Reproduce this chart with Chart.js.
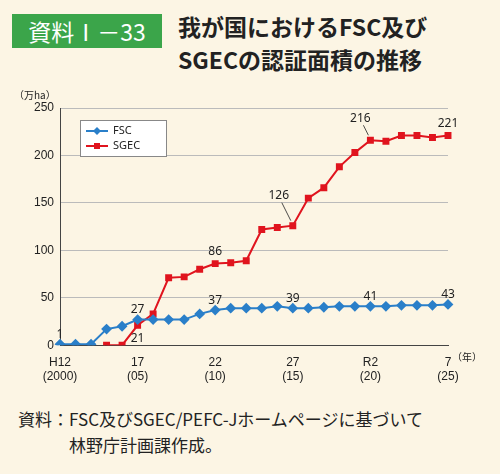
<!DOCTYPE html>
<html><head><meta charset="utf-8">
<script src="https://cdn.jsdelivr.net/npm/chart.js@4"></script>
<style>
body{margin:0;background:#fcf5e4;font-family:"Noto Sans CJK JP","Noto Sans",sans-serif;}
#wrap{position:relative;width:500px;height:474px;}
#badge{position:absolute;left:12px;top:14px;width:150px;height:34px;background:#3ba54a;color:#fff;font-size:23px;line-height:34px;text-align:center;}
#title{position:absolute;left:178px;top:10px;font-size:23px;font-weight:bold;line-height:33px;color:#222;}
#cv{position:absolute;left:0;top:86px;}
#note{position:absolute;left:18px;top:406px;font-size:17px;line-height:26px;color:#222;}
</style></head><body>
<div id="wrap">
<div id="badge">資料Ⅰ－33</div>
<div id="title">我が国におけるFSC及び<br>SGECの認証面積の推移</div>
<canvas id="cv" width="500" height="300"></canvas>
<div id="note">資料：FSC及びSGEC/PEFC-Jホームページに基づいて<br><span style="padding-left:51px">林野庁計画課作成。</span></div>
</div>
<script>
const years = ['H12','13','14','15','16','17','18','19','20','21','22','23','24','25','26','27','28','29','30','R1','R2','3','4','5','6','7'];
const tickTop = {0:'H12',5:'17',10:'22',15:'27',20:'R2',25:'7'};
const tickBottom = {0:'(2000)',5:'(05)',10:'(10)',15:'(15)',20:'(20)',25:'(25)'};
const fsc = [1,1,1,17,20,27,27,27,27,33,37,39,39,39,41,39,39,40,41,41,41,41,42,42,42,43];
const sgec = [null,null,null,0,0,21,33,71,72,80,86,87,89,122,124,126,155,166,188,203,216,215,221,221,219,221];
const fscLabels = {0:[0,-10],5:[0,-10],10:[0,-10],15:[0,-10],20:[0,-10],25:[0,-10]};
const sgecLabels = {5:[0,13],10:[0,-12],15:[-14,-30],20:[-10,-22],25:[0,-12]};

const labelPlugin = {
  id:'labels',
  afterDatasetsDraw(chart){
    const c = chart.ctx;
    c.save();
    c.font='12px "Noto Sans", sans-serif';
    c.fillStyle='#222';c.textAlign='center';c.textBaseline='middle';
    const draw=(di,map,vals)=>{
      const meta=chart.getDatasetMeta(di);
      for(const k in map){
        const p=meta.data[k];const [dx,dy]=map[k];
        const x=p.x+dx,y=p.y+dy;
        if(Math.abs(dx)>5){c.strokeStyle='#222';c.lineWidth=0.8;c.beginPath();c.moveTo(x+3,y+7);c.lineTo(p.x-2,p.y-5);c.stroke();}
        c.fillText(String(vals[k]),x,y);
      }
    };
    draw(0,fscLabels,fsc);draw(1,sgecLabels,sgec);
    c.textAlign='left';c.font='10px "Noto Sans CJK JP", sans-serif';
    c.fillText('（万ha）',14,9);
    c.fillText('（年）',452,271);
    c.fillStyle='#fff';c.strokeStyle='#888';c.lineWidth=1;
    c.fillRect(80,34,86,36);c.strokeRect(80.5,34.5,86,36);
    const items=[['FSC','#2a7fc9','d'],['SGEC','#e0141e','s']];
    items.forEach((it,i)=>{
      const y=45+i*15;
      c.strokeStyle=it[1];c.lineWidth=2;c.beginPath();c.moveTo(86,y);c.lineTo(108,y);c.stroke();
      c.fillStyle=it[1];
      if(it[2]==='d'){c.beginPath();c.moveTo(97,y-4);c.lineTo(101,y);c.lineTo(97,y+4);c.lineTo(93,y);c.fill();}
      else c.fillRect(94,y-3,6,6);
      c.fillStyle='#222';c.font='11px "Noto Sans", sans-serif';c.fillText(it[0],113,y);
    });
    c.restore();
  }
};

new Chart(document.getElementById('cv'),{
  type:'line',
  data:{labels:years,datasets:[
    {label:'FSC',data:fsc,borderColor:'#2a7fc9',backgroundColor:'#2a7fc9',borderWidth:2,pointStyle:'rectRot',pointRadius:4,tension:0},
    {label:'SGEC',data:sgec,borderColor:'#e0141e',backgroundColor:'#e0141e',borderWidth:2,pointStyle:'rect',pointRadius:3.5,tension:0}
  ]},
  options:{
    responsive:false,animation:false,
    layout:{padding:{left:0,right:52,top:22,bottom:0}},
    plugins:{legend:{display:false},tooltip:{enabled:false}},
    scales:{
      x:{offset:false,grid:{display:false},border:{color:'#444'},
        ticks:{autoSkip:false,maxRotation:0,color:'#222',font:{size:12},padding:2,
          callback:(v,i)=>tickTop[i]!==undefined?[tickTop[i],tickBottom[i]]:''}},
      y:{min:0,max:250,grid:{color:'#bbb',drawTicks:false},border:{color:'#444'},
        afterFit(s){s.width=60;},
        ticks:{stepSize:50,color:'#222',font:{size:12},padding:6}}
    }
  },
  plugins:[labelPlugin]
});
</script>
</body></html>
